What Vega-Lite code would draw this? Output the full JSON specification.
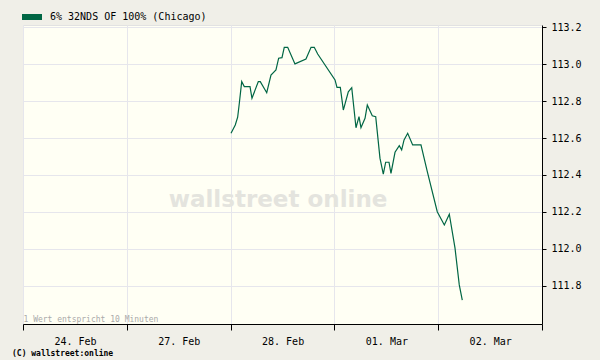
{
  "$schema": "https://vega.github.io/schema/vega-lite/v6.json",
  "width": 519,
  "height": 299,
  "autosize": "none",
  "padding": {"left": 23, "top": 25, "right": 58, "bottom": 36},
  "background": "#f0efe8",
  "config": {
    "view": {"fill": "#fffff4", "stroke": "#e2e2e2", "strokeWidth": 1},
    "font": "DejaVu Sans Mono"
  },
  "title": {
    "text": "(C) wallstreet:online",
    "orient": "bottom",
    "anchor": "start",
    "frame": "group",
    "dx": -11,
    "offset": 4,
    "fontSize": 8,
    "fontWeight": "bold",
    "font": "DejaVu Sans Mono",
    "color": "#000000"
  },
  "layer": [
    {
      "data": {"values": [{"label": "wallstreet online"}]},
      "mark": {"type": "text", "font": "DejaVu Sans", "fontWeight": "bold", "fontSize": 23, "fill": "#e4e4de", "align": "center", "baseline": "alphabetic"},
      "encoding": {
        "x": {"datum": 2.457, "type": "quantitative"},
        "y": {"datum": 112.227, "type": "quantitative"},
        "text": {"field": "label", "type": "nominal"}
      }
    },
    {
      "data": {"values": [
        {"t": 2.004, "v": 112.626},
        {"t": 2.045, "v": 112.671},
        {"t": 2.068, "v": 112.713},
        {"t": 2.084, "v": 112.789},
        {"t": 2.107, "v": 112.906},
        {"t": 2.132, "v": 112.879},
        {"t": 2.187, "v": 112.879},
        {"t": 2.206, "v": 112.816},
        {"t": 2.267, "v": 112.906},
        {"t": 2.286, "v": 112.906},
        {"t": 2.348, "v": 112.846},
        {"t": 2.389, "v": 112.942},
        {"t": 2.437, "v": 112.969},
        {"t": 2.463, "v": 113.033},
        {"t": 2.495, "v": 113.036},
        {"t": 2.517, "v": 113.092},
        {"t": 2.550, "v": 113.092},
        {"t": 2.620, "v": 113.002},
        {"t": 2.726, "v": 113.029},
        {"t": 2.775, "v": 113.092},
        {"t": 2.806, "v": 113.092},
        {"t": 2.839, "v": 113.056},
        {"t": 3.006, "v": 112.915},
        {"t": 3.025, "v": 112.875},
        {"t": 3.057, "v": 112.875},
        {"t": 3.086, "v": 112.752},
        {"t": 3.134, "v": 112.851},
        {"t": 3.167, "v": 112.873},
        {"t": 3.208, "v": 112.656},
        {"t": 3.237, "v": 112.716},
        {"t": 3.256, "v": 112.656},
        {"t": 3.295, "v": 112.707},
        {"t": 3.317, "v": 112.779},
        {"t": 3.365, "v": 112.721},
        {"t": 3.398, "v": 112.716},
        {"t": 3.439, "v": 112.491},
        {"t": 3.471, "v": 112.405},
        {"t": 3.494, "v": 112.469},
        {"t": 3.526, "v": 112.469},
        {"t": 3.545, "v": 112.409},
        {"t": 3.584, "v": 112.523},
        {"t": 3.625, "v": 112.559},
        {"t": 3.648, "v": 112.536},
        {"t": 3.671, "v": 112.590},
        {"t": 3.706, "v": 112.626},
        {"t": 3.754, "v": 112.563},
        {"t": 3.834, "v": 112.563},
        {"t": 3.895, "v": 112.418},
        {"t": 3.991, "v": 112.201},
        {"t": 4.059, "v": 112.129},
        {"t": 4.107, "v": 112.187},
        {"t": 4.162, "v": 112.003},
        {"t": 4.203, "v": 111.804},
        {"t": 4.232, "v": 111.722}
      ]},
      "mark": {"type": "line", "strokeWidth": 1.2, "interpolate": "linear"},
      "encoding": {
        "x": {
          "field": "t",
          "type": "quantitative",
          "scale": {"domain": [0, 5], "nice": false, "zero": false},
          "axis": {
            "values": [0, 1, 2, 3, 4, 5],
            "labelExpr": "['24. Feb','27. Feb','28. Feb','01. Mar','02. Mar',''][datum.value]",
            "labelOffset": 52,
            "labelAlign": "center",
            "labelFlush": false,
            "labelOverlap": false,
            "labelFont": "DejaVu Sans Mono",
            "labelFontSize": 10,
            "labelColor": "#000000",
            "labelPadding": 6,
            "tickSize": 6,
            "tickColor": "#000000",
            "domainColor": "#000000",
            "grid": true,
            "gridColor": "#e6e6ec",
            "title": "1 Wert entspricht 10 Minuten",
            "titleX": 0,
            "titleY": -5,
            "titleAlign": "left",
            "titleAnchor": "start",
            "titleBaseline": "middle",
            "titleFont": "DejaVu Sans Mono",
            "titleFontSize": 8,
            "titleFontWeight": "normal",
            "titleColor": "#aaaaaa"
          }
        },
        "y": {
          "field": "v",
          "type": "quantitative",
          "scale": {"domain": [111.592, 113.213], "nice": false, "zero": false},
          "axis": {
            "orient": "right",
            "values": [111.8, 112.0, 112.2, 112.4, 112.6, 112.8, 113.0, 113.2],
            "format": ".1f",
            "labelFont": "DejaVu Sans Mono",
            "labelFontSize": 10,
            "labelColor": "#000000",
            "labelPadding": 5,
            "tickSize": 4,
            "tickColor": "#000000",
            "domainColor": "#000000",
            "grid": true,
            "gridColor": "#e6e6ec",
            "title": null
          }
        },
        "color": {
          "datum": "6% 32NDS OF 100% (Chicago)",
          "type": "nominal",
          "scale": {"range": ["#006644"]},
          "legend": {
            "orient": "none",
            "legendX": -4,
            "legendY": -21,
            "title": null,
            "padding": 0,
            "symbolType": "M-1,0H1",
            "symbolSize": 400,
            "symbolStrokeWidth": 6,
            "labelOffset": 5,
            "labelFont": "DejaVu Sans Mono",
            "labelFontSize": 10,
            "labelColor": "#000000"
          }
        }
      }
    }
  ]
}
